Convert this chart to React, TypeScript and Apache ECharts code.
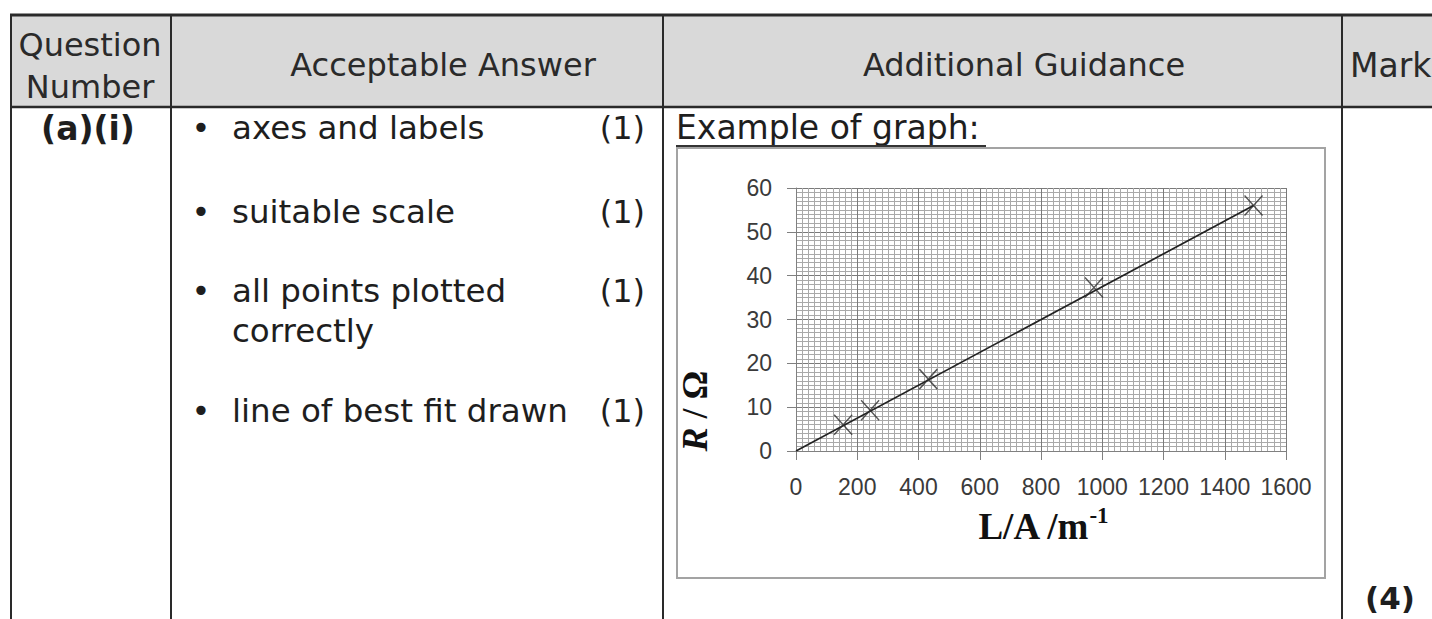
import React, { useEffect, useRef } from "react";
import * as echarts from "echarts";

// ---- table content ----
const headerQuestion = "Question\nNumber";
const headerAnswer = "Acceptable Answer";
const headerGuidance = "Additional Guidance";
const headerMark = "Mark";
const questionId = "(a)(i)";
const criteriaLines = [["axes and labels"], ["suitable scale"], ["all points plotted", "correctly"], ["line of best fit drawn"]];
const criteriaMarks = ["(1)", "(1)", "(1)", "(1)"];
const totalMark = "(4)";
const graphCaption = "Example of graph:";

// ---- chart data ----
const lengthOverArea = [154, 242, 432, 973, 1494];
const resistance = [6.0, 9.3, 16.4, 37.3, 56.0];
const fitX = [0, 1494];
const fitY = [0, 56];
const xMin = 0, xMax = 1600, xStep = 200;
const yMin = 0, yMax = 60, yStep = 10;

const SANS = "DejaVu Sans";
const SERIF = "Liberation Serif";
const TXT = "#1e1e1e";
const RULE = "#2a2a2a";

function txt(text: string, x: number, y: number, opts: any = {}) {
  const align = opts.align || "left";
  return {
    type: "text",
    x,
    y,
    silent: true,
    rotation: opts.rotation || 0,
    style: {
      text,
      fill: opts.fill || TXT,
      fontSize: opts.fontSize || 32,
      fontFamily: opts.fontFamily || SANS,
      fontWeight: opts.fontWeight || "normal",
      fontStyle: opts.fontStyle || "normal",
      lineHeight: opts.lineHeight,
      rich: opts.rich,
      align,
      textAlign: align,
      verticalAlign: "middle",
      textVerticalAlign: "middle",
    },
  };
}

function hline(x1: number, x2: number, y: number, w = 2, c = RULE) {
  return { type: "line", silent: true, shape: { x1, y1: y, x2, y2: y }, style: { stroke: c, lineWidth: w } };
}
function vline(x: number, y1: number, y2: number, w = 2, c = RULE) {
  return { type: "line", silent: true, shape: { x1: x, y1, x2: x, y2 }, style: { stroke: c, lineWidth: w } };
}

export default function App() {
  const ref = useRef<HTMLDivElement>(null);
  useEffect(() => {
    if (!ref.current) return;
    const chart = echarts.init(ref.current, undefined, { renderer: "svg" });

    const rowY = [128, 212, 291, 411];
    const graphics: any[] = [
      { type: "rect", silent: true, z: -10, shape: { x: 11, y: 15, width: 1421, height: 92 }, style: { fill: "#d9d9d9" } },
      hline(10, 1432, 15, 3),
      hline(10, 1432, 107, 2.5),
      vline(11, 14, 619),
      vline(171, 14, 619),
      vline(663, 14, 619),
      vline(1342, 14, 619),
      txt(headerQuestion, 90, 66, { align: "center", lineHeight: 42, fill: "#2a2a2a" }),
      txt(headerAnswer, 443, 65, { align: "center", fill: "#2a2a2a" }),
      txt(headerGuidance, 1024, 65, { align: "center", fill: "#2a2a2a" }),
      txt(headerMark, 1350, 65, { fill: "#2a2a2a", fontSize: 33 }),
      txt(questionId, 88, 128, { align: "center", fontWeight: "bold", fontSize: 33 }),
      txt(graphCaption, 676, 127, { fontSize: 33 }),
      hline(676, 986, 146, 2, "#333"),
      { type: "rect", silent: true, shape: { x: 677, y: 148, width: 648, height: 430 }, style: { fill: "none", stroke: "#a3a3a3", lineWidth: 2 } },
      txt(totalMark, 1390, 598, { align: "center", fontWeight: "bold", fontSize: 31 }),
      txt("{i|R} {n|/ Ω}", 695, 411, {
        align: "center",
        rotation: Math.PI / 2,
        fontFamily: SERIF,
        fontSize: 36,
        fontWeight: "bold",
        rich: {
          i: { fontFamily: SERIF, fontSize: 36, fontWeight: "bold", fontStyle: "italic", fill: "#111" },
          n: { fontFamily: SERIF, fontSize: 36, fontWeight: "bold", fill: "#111" },
        },
      }),
      txt("{b|L/A /m}{s|-1}", 1043, 526, {
        align: "center",
        fontFamily: SERIF,
        rich: {
          b: { fontFamily: SERIF, fontSize: 37, fontWeight: "bold", fill: "#111", lineHeight: 44, verticalAlign: "middle" },
          s: { fontFamily: SERIF, fontSize: 23, fontWeight: "bold", fill: "#111", lineHeight: 16, verticalAlign: "top" },
        },
      }),
    ];

    criteriaLines.forEach((lines, i) => {
      const y = rowY[i];
      graphics.push(txt("•", 201, y, { align: "center" }));
      lines.forEach((l, j) => graphics.push(txt(l, 232, y + j * 40, { fontSize: 32.5 })));
      graphics.push(txt(criteriaMarks[i], 645, y, { align: "right" }));
    });

    const axisText = { fontFamily: "Liberation Sans", fontSize: 23, color: "#3a3a3a", formatter: (v: number) => String(v) };

    chart.setOption({
      animation: false,
      backgroundColor: "#ffffff",
      graphic: { elements: graphics },
      grid: { left: 796, top: 188, width: 490, height: 263, containLabel: false },
      xAxis: {
        type: "value",
        min: xMin,
        max: xMax,
        interval: xStep,
        axisLine: { show: true, onZero: false, lineStyle: { color: "#808080", width: 1 } },
        axisTick: { show: true, length: 9, lineStyle: { color: "#808080" } },
        axisLabel: { ...axisText, margin: 24 },
        splitLine: { show: true, lineStyle: { color: "#7a7a7a", width: 1 } },
        minorTick: { show: false, splitNumber: 10 },
        minorSplitLine: { show: true, lineStyle: { color: "#a9a9a9", width: 1 } },
      },
      yAxis: {
        type: "value",
        min: yMin,
        max: yMax,
        interval: yStep,
        axisLine: { show: true, lineStyle: { color: "#808080", width: 1 } },
        axisTick: { show: true, length: 9, lineStyle: { color: "#808080" } },
        axisLabel: { ...axisText, margin: 24 },
        splitLine: { show: true, lineStyle: { color: "#7a7a7a", width: 1 } },
        minorTick: { show: false, splitNumber: 10 },
        minorSplitLine: { show: true, lineStyle: { color: "#a9a9a9", width: 1 } },
      },
      series: [
        {
          type: "line",
          data: fitX.map((x, i) => [x, fitY[i]]),
          symbol: "none",
          lineStyle: { color: "#222", width: 1.7 },
          z: 3,
        },
        {
          type: "scatter",
          data: lengthOverArea.map((x, i) => [x, resistance[i]]),
          symbol: "path://M0 0L20 22M20 0L0 22",
          symbolSize: [18, 20],
          itemStyle: { color: "none", borderColor: "#2e2e2e", borderWidth: 1.5 },
          z: 4,
        },
      ],
    });
    return () => chart.dispose();
  }, []);
  return (
    <div
      ref={ref}
      style={{ position: "fixed", left: 0, top: 0, width: 1432, height: 619, background: "#fff" }}
    />
  );
}
